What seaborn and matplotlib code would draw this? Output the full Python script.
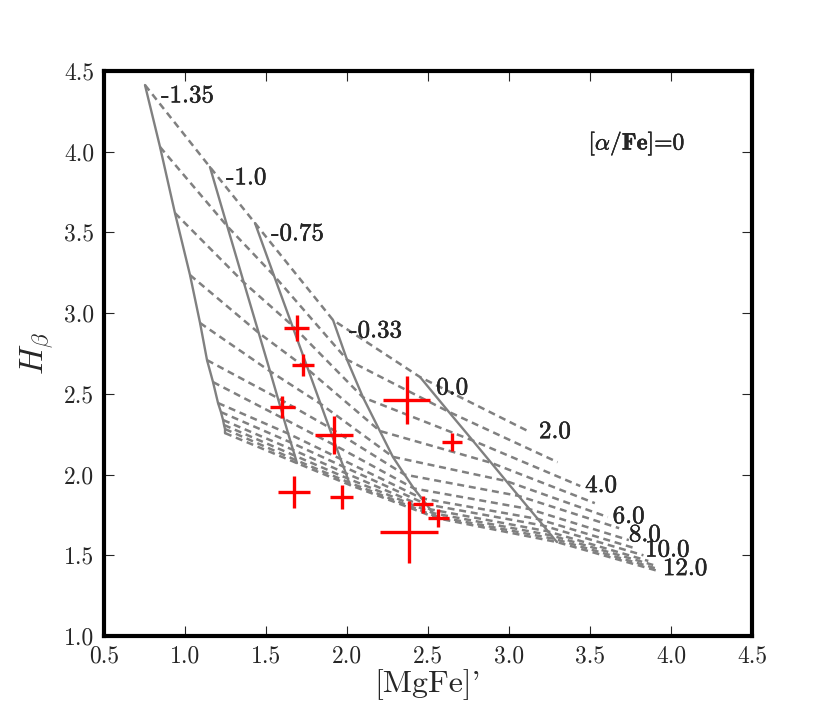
import numpy as np
import pandas as pd
import matplotlib
matplotlib.use("Agg")
import matplotlib.pyplot as plt
import matplotlib.patheffects as pe
import seaborn as sns

# model grid: one column per [Z/H], one point per age (young -> old)
zh_labels = ["-1.35", "-1.0", "-0.75", "-0.33", "0.0", "0.35"]
ages = [2, 3, 4, 5, 6, 7, 8, 9, 10, 11, 12, 13, 14]
age_labels = {2: "2.0", 4: "4.0", 6: "6.0", 8: "8.0", 10: "10.0", 12: "12.0"}

mgfe_m135 = [0.753, 0.846, 0.938, 1.031, 1.093, 1.136, 1.173, 1.204, 1.222, 1.235, 1.241, 1.247, 1.247]
hb_m135 = [4.413, 4.029, 3.620, 3.236, 2.939, 2.709, 2.573, 2.443, 2.387, 2.338, 2.307, 2.282, 2.257]

mgfe_m100 = [1.154, 1.261, 1.363, 1.455, 1.525, 1.573, 1.610, 1.637, 1.653, 1.667, 1.678, 1.686, 1.691]
hb_m100 = [3.905, 3.538, 3.190, 2.878, 2.640, 2.474, 2.346, 2.254, 2.199, 2.153, 2.117, 2.089, 2.071]

mgfe_m075 = [1.432, 1.549, 1.661, 1.761, 1.837, 1.890, 1.931, 1.960, 1.978, 1.993, 2.004, 2.013, 2.019]
hb_m075 = [3.558, 3.233, 2.925, 2.649, 2.438, 2.292, 2.178, 2.097, 2.049, 2.008, 1.976, 1.951, 1.935]

mgfe_m033 = [1.914, 2.000, 2.099, 2.203, 2.283, 2.355, 2.413, 2.461, 2.490, 2.513, 2.532, 2.547, 2.556]
hb_m033 = [2.957, 2.712, 2.478, 2.270, 2.110, 2.000, 1.914, 1.853, 1.816, 1.785, 1.761, 1.742, 1.730]

mgfe_p000 = [2.451, 2.628, 2.776, 2.890, 2.983, 3.059, 3.127, 3.178, 3.212, 3.241, 3.262, 3.279, 3.296]
hb_p000 = [2.604, 2.389, 2.211, 2.073, 1.960, 1.868, 1.786, 1.725, 1.684, 1.648, 1.623, 1.602, 1.582]

mgfe_p035 = [3.13, 3.30, 3.44, 3.53, 3.61, 3.68, 3.74, 3.79, 3.83, 3.86, 3.89, 3.91, 3.93]
hb_p035 = [2.263, 2.077, 1.929, 1.823, 1.737, 1.668, 1.594, 1.540, 1.500, 1.465, 1.440, 1.418, 1.400]

# observed galaxies
obs_mgfe = [1.691, 1.728, 1.599, 1.920, 2.370, 2.648, 1.673, 1.969, 2.469, 2.562, 2.383]
obs_hb = [2.908, 2.678, 2.418, 2.245, 2.462, 2.200, 1.892, 1.861, 1.817, 1.731, 1.644]
obs_mgfe_err = [0.077, 0.070, 0.077, 0.117, 0.145, 0.059, 0.096, 0.071, 0.062, 0.065, 0.179]
obs_hb_err = [0.080, 0.068, 0.068, 0.120, 0.150, 0.056, 0.100, 0.074, 0.053, 0.056, 0.190]

cols_x = [mgfe_m135, mgfe_m100, mgfe_m075, mgfe_m033, mgfe_p000, mgfe_p035]
cols_y = [hb_m135, hb_m100, hb_m075, hb_m033, hb_p000, hb_p035]

rows = []
for zh, xs, ys in zip(zh_labels, cols_x, cols_y):
    for age, x, y in zip(ages, xs, ys):
        rows.append({"zh": zh, "age": age, "mgfe": x, "hb": y})
grid = pd.DataFrame(rows)

sns.set_style("ticks")
plt.rcParams["font.family"] = ["cmr10", "DejaVu Serif"]
plt.rcParams["mathtext.fontset"] = "cm"
plt.rcParams["axes.unicode_minus"] = False
plt.rcParams["axes.formatter.use_mathtext"] = True

fig = plt.figure(figsize=(8.3, 7.07), dpi=100)
ax = fig.add_axes([0.1253, 0.1004, 0.7807, 0.7992])

# solid lines of constant metallicity (the last column is not drawn solid)
solid = grid[grid["zh"] != "0.35"]
sns.lineplot(data=solid, x="mgfe", y="hb", units="zh", estimator=None, sort=False,
             color="gray", linewidth=1.7, ax=ax, legend=False)
# dashed lines of constant age
sns.lineplot(data=grid, x="mgfe", y="hb", units="age", estimator=None, sort=False,
             color="gray", linewidth=1.8, linestyle=(0, (2.8, 1.9)), ax=ax, legend=False)

heavy = [pe.withStroke(linewidth=0.3, foreground="black")]

for zh, xs, ys in zip(zh_labels[:-1], cols_x, cols_y):
    ax.text(xs[0] + 0.1, ys[0] - 0.07, zh, fontsize=18, ha="left", va="center",
            path_effects=heavy)

# offsets of the age labels from the ends of their lines
age_dx = {2: 0.055, 4: 0.03, 6: 0.03, 8: 0.0, 10: 0.01, 12: 0.06}
age_dy = {2: 0.0, 4: 0.0, 6: 0.0, 8: 0.03, 10: 0.03, 12: -0.025}
for i, age in enumerate(ages):
    if age in age_labels:
        ax.text(mgfe_p035[i] + age_dx[age], hb_p035[i] + age_dy[age], age_labels[age],
                fontsize=18, ha="left", va="center", path_effects=heavy)

ax.errorbar(obs_mgfe, obs_hb, xerr=obs_mgfe_err, yerr=obs_hb_err, fmt="none",
            ecolor="red", elinewidth=2.4, capsize=0, zorder=5)

ax.text(3.49, 4.054, r"[$\alpha$/$\mathbf{Fe}$]=0", fontsize=17, ha="left", va="center",
        path_effects=heavy)

ax.set_xlim(0.5, 4.5)
ax.set_ylim(1.0, 4.5)
ax.set_xticks(np.arange(0.5, 4.51, 0.5))
ax.set_yticks(np.arange(1.0, 4.51, 0.5))
ax.set_xticklabels([f"{v:.1f}" for v in np.arange(0.5, 4.51, 0.5)])
ax.set_yticklabels([f"{v:.1f}" for v in np.arange(1.0, 4.51, 0.5)])
ax.tick_params(direction="in", top=True, right=True, length=7, width=0.8,
               labelsize=17, pad=7)
for s in ax.spines.values():
    s.set_linewidth(3)
    s.set_color("black")

ax.set_xlabel("[MgFe]'", fontsize=23, labelpad=1)
ax.set_ylabel(r"$H_\beta$", fontsize=24, labelpad=6)

fig.savefig("out.png", dpi=100)
